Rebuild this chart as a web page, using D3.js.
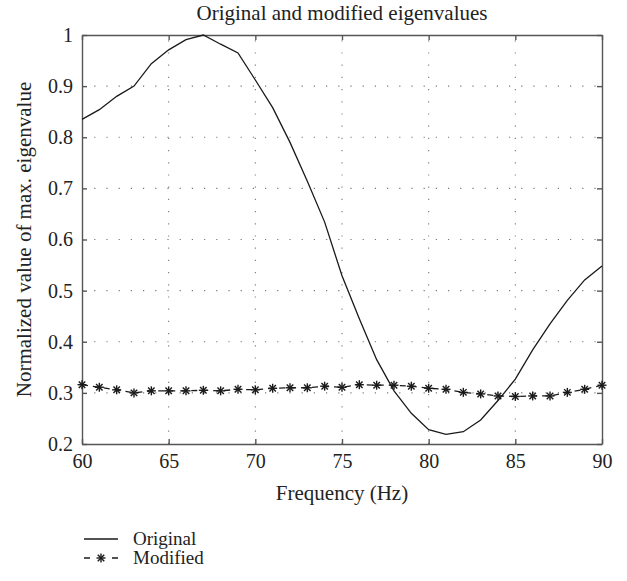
<!DOCTYPE html>
<html>
<head>
<meta charset="utf-8">
<script src="https://cdn.jsdelivr.net/npm/d3@7"></script>
<style>
  html, body { margin: 0; padding: 0; background: #fff; }
  svg { display: block; font-family: 'Liberation Serif', serif; }
  svg text { font-family: 'Liberation Serif', serif !important; }
</style>
</head>
<body>
<svg id="chart" width="627" height="581"></svg>
<script>
// ---- data ----
const frequencies = [60,61,62,63,64,65,66,67,68,69,70,71,72,73,74,75,76,77,78,79,80,81,82,83,84,85,86,87,88,89,90];
const originalValues = [0.835,0.854,0.880,0.900,0.944,0.971,0.991,1.000,0.982,0.965,0.912,0.858,0.790,0.714,0.634,0.529,0.445,0.365,0.304,0.260,0.228,0.219,0.224,0.247,0.285,0.327,0.384,0.435,0.481,0.521,0.548];
const modifiedValues = [0.316,0.311,0.306,0.300,0.304,0.304,0.304,0.305,0.304,0.307,0.306,0.309,0.310,0.310,0.313,0.311,0.316,0.315,0.315,0.313,0.309,0.307,0.301,0.298,0.294,0.293,0.294,0.294,0.301,0.307,0.315];
const xTicks = [60,65,70,75,80,85,90];
const yTicks = [0.2,0.3,0.4,0.5,0.6,0.7,0.8,0.9,1.0];
const yTickLabels = ["0.2","0.3","0.4","0.5","0.6","0.7","0.8","0.9","1"];
const seriesNames = ["Original","Modified"];
const titleText = "Original and modified eigenvalues";
const xLabelText = "Frequency (Hz)";
const yLabelText = "Normalized value of max. eigenvalue";

// ---- layout ----
const L = 82, R = 602, T = 35, B = 444;
const svg = d3.select("#chart");
const x = d3.scaleLinear().domain([60, 90]).range([L, R]);
const y = d3.scaleLinear().domain([0.2, 1.0]).range([B, T]);
const axisColor = "#555";
const ink = "#1a1a1a";

// grid
const grid = svg.append("g").attr("stroke", "#777").attr("stroke-width", 1.1).attr("stroke-dasharray", "1.2,11");
xTicks.slice(1, -1).forEach(v => {
  grid.append("line").attr("x1", x(v)).attr("x2", x(v)).attr("y1", B).attr("y2", T);
});
yTicks.slice(1, -1).forEach(v => {
  grid.append("line").attr("x1", L).attr("x2", R).attr("y1", y(v)).attr("y2", y(v));
});

// axes (inner ticks, box)
const tickLen = 5;
const axB = svg.append("g").attr("transform", `translate(0,${B})`)
  .call(d3.axisBottom(x).tickValues(xTicks).tickSizeInner(-tickLen).tickSizeOuter(0).tickPadding(10).tickFormat(d3.format("d")));
const axT = svg.append("g").attr("transform", `translate(0,${T})`)
  .call(d3.axisTop(x).tickValues(xTicks).tickSizeInner(-tickLen).tickSizeOuter(0).tickFormat(""));
const axL = svg.append("g").attr("transform", `translate(${L},0)`)
  .call(d3.axisLeft(y).tickValues(yTicks).tickSizeInner(-tickLen).tickSizeOuter(0).tickPadding(9).tickFormat((d, i) => yTickLabels[i]));
const axR = svg.append("g").attr("transform", `translate(${R},0)`)
  .call(d3.axisRight(y).tickValues(yTicks).tickSizeInner(-tickLen).tickSizeOuter(0).tickFormat(""));
[axB, axT, axL, axR].forEach(a => {
  a.attr("font-family", "Liberation Serif").attr("font-size", 20);
  a.selectAll("path.domain").attr("stroke", axisColor).attr("stroke-width", 1.4);
  a.selectAll(".tick line").attr("stroke", axisColor).attr("stroke-width", 1.4);
  a.selectAll("text").attr("font-family", "Liberation Serif").attr("fill", "#222");
});
axB.selectAll(".tick text").attr("dy", "0.71em");

// lines
const lineGen = d3.line().x(d => x(d[0])).y(d => y(d[1]));
const origPts = frequencies.map((f, i) => [f, originalValues[i]]);
const modPts = frequencies.map((f, i) => [f, modifiedValues[i]]);
const plot = svg.append("g");
plot.append("path").datum(origPts).attr("d", lineGen)
  .attr("fill", "none").attr("stroke", ink).attr("stroke-width", 1.3);
plot.append("path").datum(modPts).attr("d", lineGen)
  .attr("fill", "none").attr("stroke", ink).attr("stroke-width", 1.3).attr("stroke-dasharray", "6,5");

// star markers
function star(g, cx, cy, r) {
  const s = g.append("g").attr("transform", `translate(${cx},${cy})`)
    .attr("stroke", ink).attr("stroke-width", 1.4);
  s.append("line").attr("x1", -r).attr("x2", r).attr("y1", 0).attr("y2", 0);
  s.append("line").attr("x1", 0).attr("x2", 0).attr("y1", -r).attr("y2", r);
  const d = r * 0.72;
  s.append("line").attr("x1", -d).attr("x2", d).attr("y1", -d).attr("y2", d);
  s.append("line").attr("x1", -d).attr("x2", d).attr("y1", d).attr("y2", -d);
}
const stars = plot.append("g");
modPts.forEach(p => star(stars, x(p[0]), y(p[1]), 4.5));

// title and axis labels
function txt(sel, size) {
  return sel.attr("font-family", "Liberation Serif").attr("font-size", size).attr("fill", "#222");
}
txt(svg.append("text"), 21).attr("x", (L + R) / 2).attr("y", 20).attr("text-anchor", "middle").text(titleText);
txt(svg.append("text"), 21).attr("x", (L + R) / 2).attr("y", 500).attr("text-anchor", "middle").text(xLabelText);
txt(svg.append("text"), 21).attr("transform", `translate(31,${(T + B) / 2}) rotate(-90)`)
  .attr("text-anchor", "middle").text(yLabelText);

// legend
const lg = svg.append("g");
const legY = [539, 558];
lg.append("line").attr("x1", 84).attr("x2", 118).attr("y1", legY[0]).attr("y2", legY[0])
  .attr("stroke", ink).attr("stroke-width", 1.3);
lg.append("line").attr("x1", 84).attr("x2", 118).attr("y1", legY[1]).attr("y2", legY[1])
  .attr("stroke", ink).attr("stroke-width", 1.3).attr("stroke-dasharray", "6,22,6");
star(lg, 101, legY[1], 4.5);
seriesNames.forEach((n, i) => {
  txt(lg.append("text"), 19).attr("x", 133).attr("y", legY[i] + 6).text(n);
});
</script>
</body>
</html>
